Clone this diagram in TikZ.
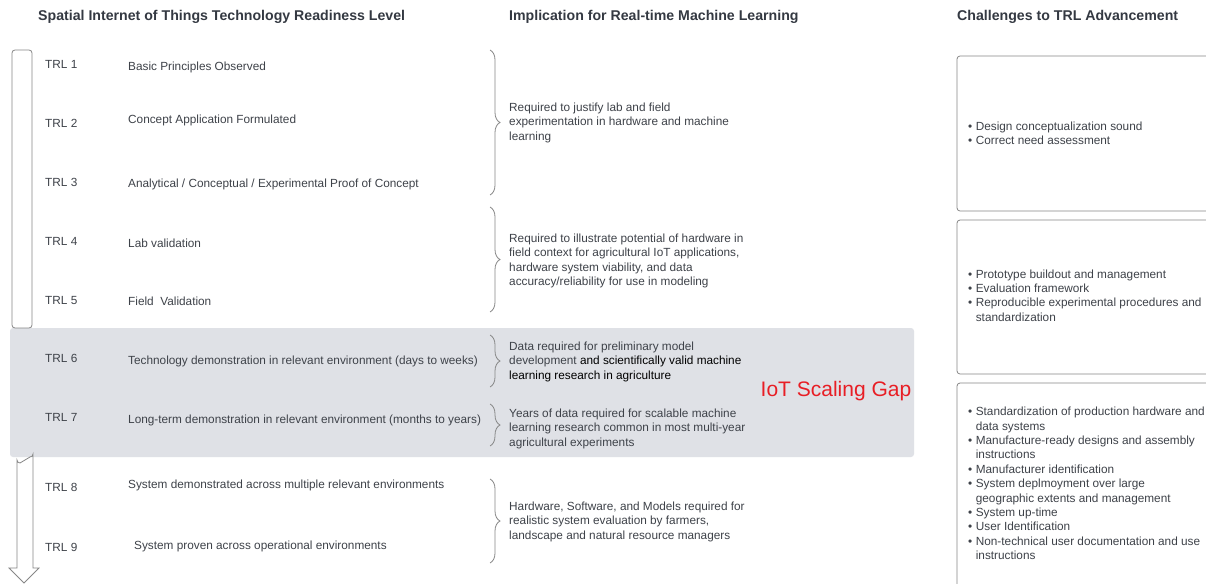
\documentclass[tikz,border=0pt]{standalone}
\usepackage{fontspec}
\setmainfont{Liberation Sans}
\usetikzlibrary{decorations.pathreplacing}
\definecolor{txt}{RGB}{62,66,73}
\definecolor{headc}{RGB}{52,57,66}
\definecolor{ln}{RGB}{135,135,135}
\definecolor{bandc}{RGB}{223,225,230}
\definecolor{gapred}{RGB}{232,30,37}
\tikzset{
  hdr/.style={font=\fontsize{14.15}{17}\selectfont\bfseries, text=headc, anchor=west, inner sep=0},
  lbl/.style={font=\fontsize{11.8}{14.4}\selectfont, text=txt, anchor=west, inner sep=0, align=left, yshift=-0.8pt},
  brc/.style={draw=ln, line width=0.8pt, decorate, decoration={brace, amplitude=10pt}},
  chbox/.style={draw=ln, line width=0.8pt, rounded corners=3pt},
}
\begin{document}
\begin{tikzpicture}[x=1pt,y=-1pt]
\clip (0,0) rectangle (1206,583);
\fill[white] (0,0) rectangle (1206,583);
% headings
\node[hdr] (h1) at (38,17) {Spatial Internet of Things Technology Readiness Level};
\node[hdr] (h2) at (509,17) {Implication for Real-time Machine Learning};
\node[hdr] (h3) at (957,17) {Challenges to TRL Advancement};
% gray band
\fill[bandc, rounded corners=3pt] (10,328) rectangle (914,457);
% left bar
\draw[chbox] (12,50) rectangle (32,328);
% down arrow
\draw[draw=ln, line width=0.8pt, line join=miter]
  (17,568) -- (17,460) arc[start angle=180, end angle=90, radius=3] -- (30,457)
  arc[start angle=90, end angle=0, radius=3] -- (33,568) -- (39,568) -- (24,583) -- (9,568) -- cycle;
% TRL labels
\foreach \n/\y in {1/64,2/123,3/182,4/241,5/300,6/358,7/417,8/487,9/547}
  \node[lbl] (trl\n) at (45,\y) {TRL \n};
% descriptions
\node[lbl] (d1) at (128,67) {Basic Principles Observed};
\node[lbl] (d2) at (128,120) {Concept Application Formulated};
\node[lbl] (d3) at (128,184) {Analytical / Conceptual / Experimental Proof of Concept};
\node[lbl] (d4) at (128,242) {Lab validation};
\node[lbl] (d5) at (128,300) {Field\ \ Validation};
\node[lbl] (d6) at (128,361) {Technology demonstration in relevant environment (days to weeks)};
\node[lbl] (d7) at (128,420) {Long-term demonstration in relevant environment (months to years)};
\node[lbl] (d8) at (128,485) {System demonstrated across multiple relevant environments};
\node[lbl] (d9) at (134,546) {System proven across operational environments};
% braces
\coordinate (b1t) at (490,50);  \coordinate (b1b) at (490,195);
\coordinate (b2t) at (490,207); \coordinate (b2b) at (490,312);
\coordinate (b3t) at (490,335); \coordinate (b3b) at (490,387);
\coordinate (b4t) at (490,404); \coordinate (b4b) at (490,446);
\coordinate (b5t) at (490,479); \coordinate (b5b) at (490,563);
\draw[brc] (b1t) -- (b1b);
\draw[brc] (b2t) -- (b2b);
\draw[brc] (b3t) -- (b3b);
\draw[brc] (b4t) -- (b4b);
\draw[brc] (b5t) -- (b5b);
% implications
\node[lbl] (imp1) at (509,122) {Required to justify lab and field\\experimentation in hardware and machine\\learning};
\node[lbl] (imp2) at (509,260) {Required to illustrate potential of hardware in\\field context for agricultural IoT applications,\\hardware system viability, and data\\accuracy/reliability for use in modeling};
\node[lbl] (imp3) at (509,361) {Data required for preliminary model\\development \textcolor{black}{and scientifically valid machine}\\\textcolor{black}{learning research in agriculture}};
\node[lbl] (imp4) at (509,428) {Years of data required for scalable machine\\learning research common in most multi-year\\agricultural experiments};
\node[lbl] (imp5) at (509,521) {Hardware, Software, and Models required for\\realistic system evaluation by farmers,\\landscape and natural resource managers};
% gap label
\node[font=\fontsize{21}{25}\selectfont, text=gapred, inner sep=0] (gap) at (836,391) {IoT Scaling Gap};
% challenge boxes
\draw[chbox] (957,56) rectangle (1220,211);
\draw[chbox] (957,220) rectangle (1220,374);
\draw[chbox] (957,383) rectangle (1220,600);
\node[lbl] (c1) at (968,134) {\begin{tabular}{@{}l@{\hspace{3.5pt}}l@{}}
• & Design conceptualization sound\\
• & Correct need assessment
\end{tabular}};
\node[lbl] (c2) at (968,296) {\begin{tabular}{@{}l@{\hspace{3.5pt}}l@{}}
• & Prototype buildout and management\\
• & Evaluation framework\\
• & Reproducible experimental procedures and\\
  & standardization
\end{tabular}};
\node[lbl] (c3) at (968,484) {\begin{tabular}{@{}l@{\hspace{3.5pt}}l@{}}
• & Standardization of production hardware and\\
  & data systems\\
• & Manufacture-ready designs and assembly\\
  & instructions\\
• & Manufacturer identification\\
• & System deplmoyment over large\\
  & geographic extents and management\\
• & System up-time\\
• & User Identification\\
• & Non-technical user documentation and use\\
  & instructions
\end{tabular}};
\end{tikzpicture}
\end{document}
